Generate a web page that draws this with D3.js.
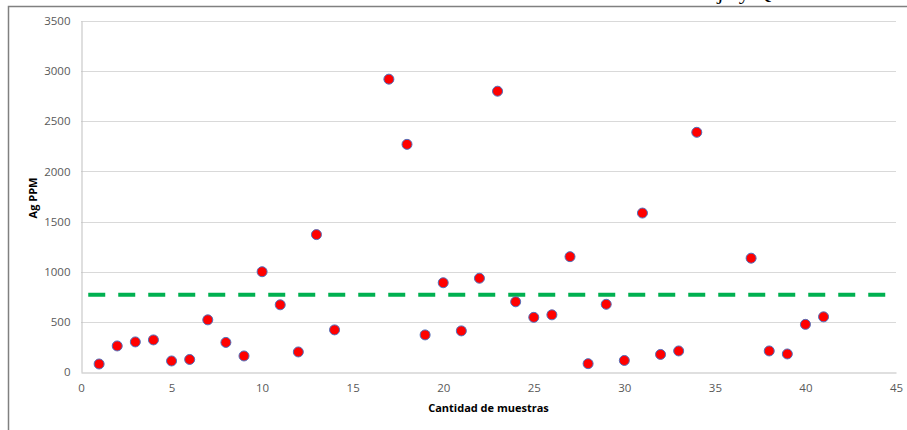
<!DOCTYPE html>
<html>
<head>
<meta charset="utf-8">
<script src="https://cdn.jsdelivr.net/npm/d3@7"></script>
<style>
  html, body { margin: 0; padding: 0; background: #fff; overflow: hidden; }
  svg { display: block; }
</style>
</head>
<body>
<svg id="chart" width="907" height="430"></svg>
<script>
// ---- Data ----
const sampleX = [1,2,3,4,5,6,7,8,9,10,11,12,13,14,17,18,19,20,21,22,23,24,25,26,27,28,29,30,31,32,33,34,37,38,39,40,41];
const agPPM   = [80,260,300,320,110,125,520,295,160,1000,670,200,1370,420,2920,2270,370,890,410,935,2800,700,545,570,1150,83,675,115,1585,175,210,2390,1135,210,180,475,550];
const thresholdX = [0.4, 45];
const thresholdValue = 770;
const xTicks = [0,5,10,15,20,25,30,35,40,45];
const yTicks = [0,500,1000,1500,2000,2500,3000,3500];
const xTitle = "Cantidad de muestras";
const yTitle = "Ag PPM";
const headerText = "Paucarmaeja y Quiñones Salina";

// ---- Layout ----
(function () {
const svg = d3.select("#chart");
const mLeft = 81, mRight = 896, mTop = 21, mBottom = 372;
const x = d3.scaleLinear().domain([0, 45]).range([mLeft, mRight]);
const y = d3.scaleLinear().domain([0, 3500]).range([mBottom, mTop]);
const font = "'Open Sans', 'Liberation Sans', sans-serif";

// clipped header text from the surrounding document (cut off at top, as in the reference)
svg.append("text")
  .attr("x", 900).attr("y", -1)
  .attr("text-anchor", "end")
  .attr("font-family", "'Liberation Serif', serif")
  .attr("font-size", 22)
  .attr("fill", "#000")
  .text(headerText);

// frame
svg.append("path")
  .attr("d", `M8.5,440 L8.5,6.5 L910,6.5`)
  .attr("fill", "none")
  .attr("stroke", "#808080")
  .attr("stroke-width", 1.5);

// gridlines
svg.append("g").selectAll("line")
  .data(yTicks.filter(d => d > 0))
  .join("line")
  .attr("x1", mLeft).attr("x2", mRight)
  .attr("y1", d => Math.round(y(d)) + 0.5).attr("y2", d => Math.round(y(d)) + 0.5)
  .attr("stroke", "#D9D9D9").attr("stroke-width", 1);

// axes
const yAxis = svg.append("g")
  .attr("transform", `translate(${mLeft + 0.5},0)`)
  .call(d3.axisLeft(y).tickValues(yTicks).tickSize(0).tickPadding(11).tickFormat(d3.format("d")));
const xAxis = svg.append("g")
  .attr("transform", `translate(0,${mBottom + 0.5})`)
  .call(d3.axisBottom(x).tickValues(xTicks).tickSize(0).tickPadding(11).tickFormat(d3.format("d")));
[yAxis, xAxis].forEach(g => {
  g.select(".domain").attr("stroke", "#BFBFBF").attr("stroke-width", 1);
  g.selectAll("text").attr("font-family", font).attr("font-size", 11.5).attr("fill", "#595959");
});

// threshold line
svg.append("line")
  .attr("x1", x(thresholdX[0])).attr("x2", x(thresholdX[1]))
  .attr("y1", y(thresholdValue)).attr("y2", y(thresholdValue))
  .attr("stroke", "#00B050").attr("stroke-width", 4)
  .attr("stroke-dasharray", "17,13");

// points
svg.append("g").selectAll("circle")
  .data(sampleX.map((d, i) => ({ x: d, v: agPPM[i] })))
  .join("circle")
  .attr("cx", d => x(d.x)).attr("cy", d => y(d.v))
  .attr("r", 5)
  .attr("fill", "#FF0000")
  .attr("stroke", "#4F71BE").attr("stroke-width", 1);

// titles
svg.append("text")
  .attr("x", (mLeft + mRight) / 2).attr("y", 412)
  .attr("text-anchor", "middle")
  .attr("font-family", font).attr("font-size", 11).attr("font-weight", "bold")
  .attr("fill", "#000")
  .text(xTitle);
svg.append("text")
  .attr("transform", `translate(37,198) rotate(-90)`)
  .attr("text-anchor", "middle")
  .attr("font-family", font).attr("font-size", 11).attr("font-weight", "bold")
  .attr("fill", "#000")
  .text(yTitle);
})();
</script>
</body>
</html>
